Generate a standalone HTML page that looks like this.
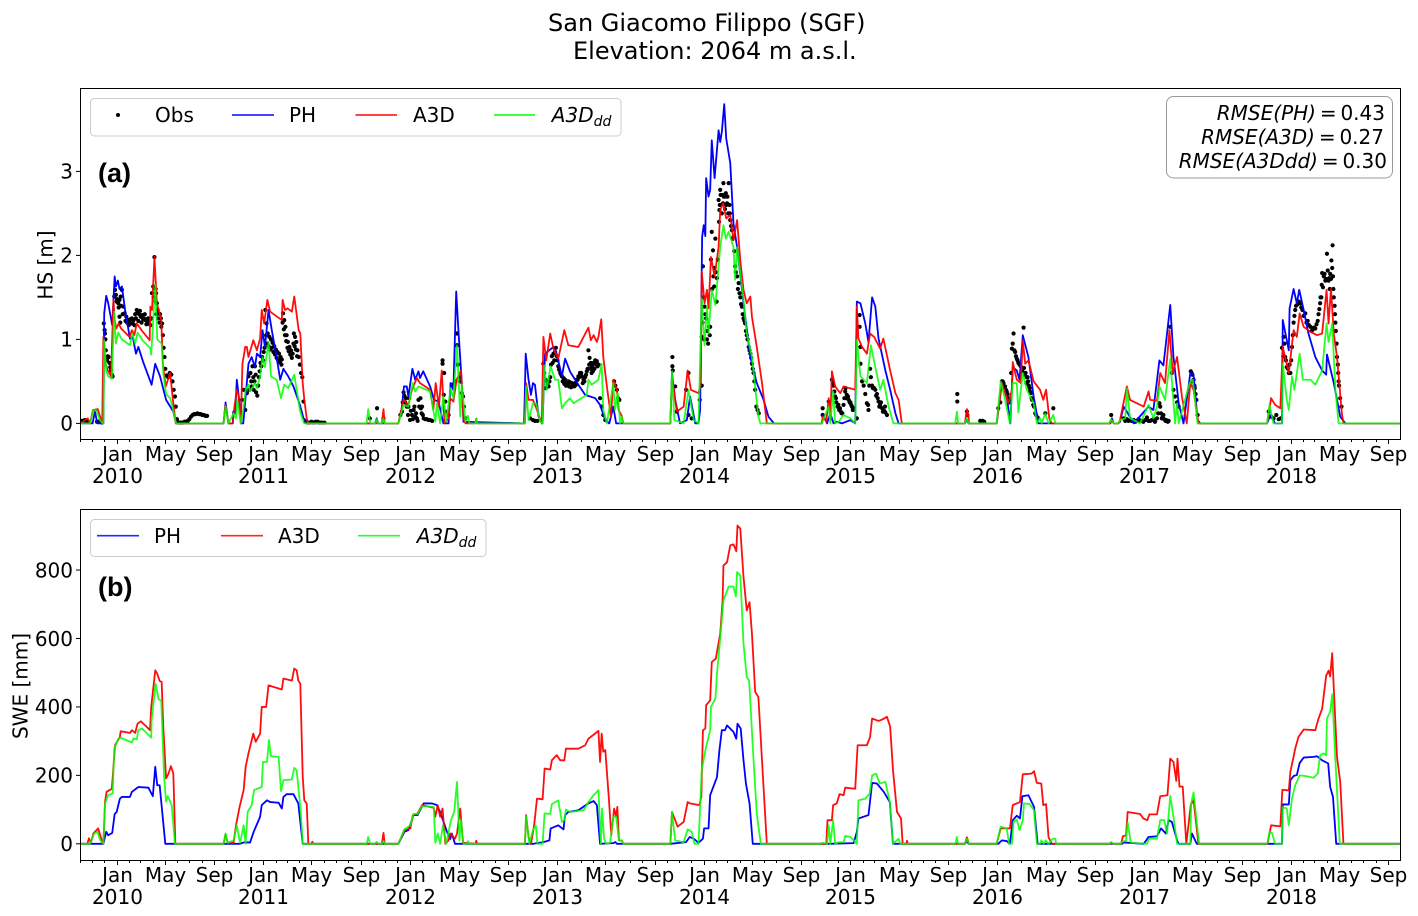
<!DOCTYPE html>
<html lang="en">
<head>
<meta charset="utf-8">
<title>San Giacomo Filippo (SGF)</title>
<style>
html,body{margin:0;padding:0;background:#fff;}
svg{display:block;}
text{font-family:"DejaVu Sans","Liberation Sans",sans-serif;fill:#000;}
.m{font-style:italic;}
</style>
</head>
<body>
<svg id="figure" xmlns="http://www.w3.org/2000/svg" width="1418" height="916" viewBox="0 0 1418 916">
  <defs>
    <clipPath id="clipA"><rect x="80.5" y="88.5" width="1320" height="351"/></clipPath>
    <clipPath id="clipB"><rect x="80.5" y="509.5" width="1320" height="351"/></clipPath>
  </defs>
  <text x="548" y="31" font-size="24">San Giacomo Filippo (SGF)</text>
  <text x="573" y="59" font-size="24">Elevation: 2064 m a.s.l.</text>

  <g id="panelA">
    <g id="marksA" clip-path="url(#clipA)"></g>
    <rect x="80.5" y="88.5" width="1320" height="351" fill="none" stroke="#000" stroke-width="1"/>
    <g id="axisA"></g>
    <text transform="translate(52.5,265) rotate(-90)" text-anchor="middle" font-size="20">HS [m]</text>
    <text x="98" y="182" font-size="27" font-weight="bold" style="font-family:'Liberation Sans',sans-serif" fill="#222">(a)</text>
    <g>
      <rect x="90.5" y="98.5" width="530.5" height="37.5" rx="4" fill="#fff" fill-opacity=".8" stroke="#ccc"/>
      <circle cx="118" cy="115" r="2" fill="#000"/>
      <text x="155" y="122" font-size="20">Obs</text>
      <line x1="232" x2="274" y1="115" y2="115" stroke="#00f" stroke-opacity=".85" stroke-width="1.7"/>
      <text x="289" y="122" font-size="20">PH</text>
      <line x1="355.5" x2="397" y1="115" y2="115" stroke="#f00" stroke-opacity=".85" stroke-width="1.7"/>
      <text x="413" y="122" font-size="20">A3D</text>
      <line x1="494" x2="535" y1="115" y2="115" stroke="#0f0" stroke-opacity=".85" stroke-width="1.7"/>
      <text x="551.8" y="122" font-size="20" class="m">A3D<tspan font-size="14" dy="4">dd</tspan></text>
    </g>
    <g>
      <rect x="1166.5" y="96.5" width="226" height="81.5" rx="7" fill="#fff" stroke="#999"/>
      <text x="1385" y="120" font-size="20" text-anchor="end" word-spacing="-2.5"><tspan class="m">RMSE(PH)</tspan> = 0.43</text>
      <text x="1384" y="144" font-size="20" text-anchor="end" word-spacing="-2.5"><tspan class="m">RMSE(A3D)</tspan> = 0.27</text>
      <text x="1387" y="168" font-size="20" text-anchor="end" word-spacing="-2.5"><tspan class="m">RMSE(A3Ddd)</tspan> = 0.30</text>
    </g>
  </g>

  <g id="panelB">
    <g id="marksB" clip-path="url(#clipB)"></g>
    <rect x="80.5" y="509.5" width="1320" height="351" fill="none" stroke="#000" stroke-width="1"/>
    <g id="axisB"></g>
    <text transform="translate(27.5,686) rotate(-90)" text-anchor="middle" font-size="20">SWE [mm]</text>
    <text x="98" y="596" font-size="27" font-weight="bold" style="font-family:'Liberation Sans',sans-serif" fill="#111">(b)</text>
    <g>
      <rect x="90.5" y="519.5" width="395.5" height="37" rx="4" fill="#fff" fill-opacity=".8" stroke="#ccc"/>
      <line x1="97" x2="139" y1="535.7" y2="535.7" stroke="#00f" stroke-opacity=".85" stroke-width="1.7"/>
      <text x="154" y="543" font-size="20">PH</text>
      <line x1="221" x2="263" y1="535.7" y2="535.7" stroke="#f00" stroke-opacity=".85" stroke-width="1.7"/>
      <text x="278" y="543" font-size="20">A3D</text>
      <line x1="358" x2="400" y1="535.7" y2="535.7" stroke="#0f0" stroke-opacity=".85" stroke-width="1.7"/>
      <text x="416.8" y="543" font-size="20" class="m">A3D<tspan font-size="14" dy="4">dd</tspan></text>
    </g>
  </g>
</svg>
<script>
/* All times are days since 2009-10-01. HS in metres, SWE in millimetres. */
const monthNames = ["Jan","May","Sep"];
const hsTickValues = [0,1,2,3];
const sweTickValues = [0,200,400,600,800];

const hsObsDays = [3,7,11,15,19,41,45,49,53,58,60,61,62,63,64,66,68,70,72,74,76,78,80,84,86,88,91,94,97,97,99,100,103,107,110,114,118,122,126,130,134,138,142,146,150,154,158,162,166,170,174,178,181,184,187,188,190,192,195,198,200,203,205,207,209,211,214,218,222,226,229,232,235,237,240,243,247,251,255,259,263,267,271,275,279,283,287,291,295,299,303,307,311,315,
90,95,101,105,112,116,120,124,128,132,136,140,144,148,152,156,160,164,168,172,176,182,186,189,193,197,201,
402,406,410,414,418,420,423,426,428,431,434,437,440,444,448,452,456,460,463,466,470,474,478,482,486,490,494,498,501,504,507,510,513,516,520,524,528,531,534,537,540,543,546,549,552,555,560,565,570,575,580,585,590,595,600,607,
425,430,433,436,442,446,450,454,458,462,465,468,472,476,480,484,488,492,496,500,503,506,509,512,515,518,522,526,530,533,536,539,
720,738,754,796,800,804,806,808,812,816,820,825,829,833,837,841,846,847,850,854,858,862,866,870,875,901,901,905,904,908,908,916,924,933,937,937,939,943,945,949,952,954,958,
802,810,815,818,822,827,831,835,839,843,849,852,
1119,1126,1131,1137,1152,1154,1157,1160,1165,1169,1173,1177,1181,1185,1189,1194,1198,1202,1206,1210,1214,1218,1223,1227,1231,1235,1239,1243,1248,1252,1256,1260,1264,1267,1270,1273,1277,1281,1285,1289,1293,1297,1301,1306,1328,1331,1335,1338,1341,
1158,1162,1167,1171,1175,1179,1183,1187,1191,1196,1200,1204,1208,1212,1216,1221,1225,1229,1233,1237,1241,1246,1250,1254,1258,1262,1266,1269,1272,1275,1279,1283,1287,
1473,1473,1474,1480,1484,1507,1513,1513,1521,1541,1546,1549,1546,1550,1553,1557,1560,1564,1567,1569,1571,1574,1577,1580,1584,1588,1590,1592,1594,1598,1600,1603,1606,1609,1613,1615,1617,1621,1625,1629,1634,1638,1642,1646,1650,1654,1658,1663,1667,1671,1675,1679,1682,1685,1688,
1548,1552,1555,1559,1562,1566,1572,1575,1578,1581,1583,1586,1589,1591,1593,1596,1599,1601,1604,1607,1610,1612,1616,1619,1623,1627,1631,1636,1640,1644,1648,1652,1656,1660,1665,1669,1673,1677,
1847,1847,1862,1870,1874,1878,1881,1884,1888,1892,1896,1901,1904,1907,1912,1916,1920,1924,1932,1939,1939,1941,1941,1945,1949,1953,1957,1961,1965,1967,1972,1978,1982,1986,1990,1995,2000,2003,2007,
1872,1876,1880,1886,1890,1894,1899,1903,1906,1910,1914,1918,1922,1960,1963,1970,1975,1980,1984,1988,1992,1997,2002,
2182,2182,2206,2207,2239,2245,2249,2284,2289,2293,2297,2301,2305,2309,2313,2318,2320,2322,2324,2328,2332,2337,2347,2348,2352,2355,2358,2362,2365,2368,2373,2378,2382,2401,2421,
2295,2299,2303,2307,2311,2316,2326,2330,2334,2340,2344,2350,2354,2357,2360,2363,2367,2371,2376,
2565,2596,2604,2612,2621,2629,2637,2645,2654,2662,2670,2679,2685,2689,2693,2697,2702,2708,2712,2716,2720,2724,2729,2733,2763,2767,2770,2773,2777,2780,
2600,2608,2616,2625,2633,2641,2650,2658,2666,2674,2682,2687,2691,2695,2700,2706,2765,2768,2772,2775,
2957,2963,2969,2976,2982,2987,2994,2996,2998,3002,3007,3011,3015,3019,3023,3029,3036,3041,3048,3054,3061,3067,3073,3079,3083,3085,3088,3090,3094,3098,3102,3104,3108,3110,3113,3116,3117,3119,3122,3124,3127,3130,3132,3135,3138,
2990,2993,3000,3005,3009,3013,3017,3021,3025,3032,3038,3044,3051,3057,3064,3070,3076,3081,3086,3089,3092,3096,3100,3106,3109,3112,3115,3118,3121,3123,3126,3129,3131];
const hsObsVals = [.03,.03,.04,.03,.02,.02,.02,.02,.01,1.19,1.11,1.07,1,.87,.79,.75,.8,.79,.72,.67,.63,.58,.56,1.51,1.59,1.53,1.48,1.43,1.47,1.27,1.2,1.51,1.59,1.39,1.31,1.27,1.23,1.21,1.19,1.19,1.17,1.25,1.32,1.3,1.27,1.29,1.25,1.23,1.21,1.19,1.17,1.55,1.63,1.98,1.6,1.55,1.43,1.35,1.31,1.3,1.25,1.19,1.05,.9,.79,.65,.57,.55,.6,.58,.5,.4,.32,.2,.05,.01,.01,.01,.01,.02,.02,.03,.05,.08,.1,.11,.11,.12,.11,.11,.1,.1,.09,.09,
1.45,1.38,1.4,1.3,1.22,1.2,1.17,1.24,1.25,1.23,1.3,1.35,1.22,1.34,1.2,1.24,1.3,1.18,1.25,1.23,1.25,1.5,1.45,1.3,1.25,1.2,1.15,
.28,.4,.16,.36,.56,.4,.6,.44,.68,.4,.68,.37,.33,.55,.72,.79,.85,1.35,1.19,1.07,1.03,1,.96,.92,.88,.85,.83,.79,.76,1.31,1.23,1.15,1.05,.97,.91,.87,.83,1.07,1.03,.97,.87,.79,.7,.6,.55,.26,.02,.01,.01,.02,.01,.02,.02,.01,.01,.01,
.5,.55,.5,.58,.45,.62,.68,.75,.9,1.05,.95,.92,.88,.9,.85,.82,.78,.75,.73,.7,1.2,1.12,1.05,.98,.9,.86,.82,.78,.95,.92,.88,.8,
.06,.18,.06,.1,.14,.37,.33,.25,.2,.2,.04,.1,.16,.08,.06,.28,.3,.18,.2,.06,.05,.05,.04,.04,.03,.75,.71,.6,.34,.26,.14,.1,.46,.5,1.07,.93,.7,.55,.5,.36,.32,.2,.06,
.25,.3,.1,.3,.15,.05,.2,.12,.03,.2,.12,.1,
.06,.04,.03,.03,.71,.6,.52,.5,.44,.55,.8,.83,.85,.8,.68,.6,.56,.54,.52,.5,.5,.49,.48,.47,.48,.52,.56,.6,.56,.52,.55,.62,.87,.78,.72,.68,.72,.75,.74,.7,.3,.2,.1,.04,.5,.45,.4,.3,.28,
.42,.46,.5,.7,.72,.75,.9,.75,.64,.58,.5,.47,.45,.47,.44,.43,.45,.44,.46,.52,.55,.6,.48,.5,.58,.65,.7,.65,.6,.62,.65,.7,.68,
.79,.68,.63,.44,.14,.4,.6,.1,.06,.28,.45,1.87,1.03,1.5,1.39,1.25,1.1,1.15,1.15,1.95,2.28,2.06,1.63,2.2,1.73,2.66,2.54,2.78,2.6,2.72,2.86,2.7,2.74,2.62,2.86,2.6,2.42,2.3,2.22,1.87,1.75,1.67,1.5,1.39,1.25,1.19,1.05,.91,.83,.71,.6,.4,.2,.16,.12,
1.2,1,1.3,1,.95,1.05,1.6,1.75,1.85,1.8,1.45,1.95,2.4,2.6,2.72,2.5,2.62,2.7,2.55,2.6,2.7,2.5,2.5,2.35,2.2,2.05,1.8,1.6,1.55,1.42,1.3,1.22,1.1,1,.87,.78,.65,.5,
.18,.1,.26,.52,.45,.32,.25,.2,.16,.14,.12,.3,.42,.34,.28,.25,.2,.18,.06,1.29,1.15,.91,.71,.5,.45,.35,.24,.16,.65,.55,.42,.4,.35,.26,.22,.18,.15,.13,.1,
.48,.38,.3,.22,.18,.12,.22,.38,.3,.32,.25,.22,.16,.22,.45,.45,.42,.33,.3,.2,.25,.14,.2,
.35,.26,.14,.1,.03,.03,.02,.18,.25,.5,.48,.44,.38,.3,.28,.89,.95,1.07,.87,.8,.75,.7,1.14,.66,.6,.55,.5,.42,.36,.28,.2,.1,.07,.12,.18,
.5,.42,.4,.35,.25,.6,.85,.77,.72,.68,.62,.58,.48,.55,.45,.38,.3,.22,.12,
.1,.06,.05,.04,.04,.03,.03,.02,.07,.03,.05,.06,.24,.12,.08,.05,.04,.03,1.15,.6,.4,.32,.25,.2,.62,.58,.52,.42,.28,.1,
.03,.03,.03,.02,.05,.03,.04,.03,.04,.02,.12,.2,.06,.1,.03,.02,.6,.5,.45,.35,
.14,.08,.06,.1,.05,.06,1.03,.95,.79,.67,.6,.6,.91,1.2,1.35,1.42,1.43,1.35,1.31,1.22,1.15,1.12,1.13,1.22,1.36,1.43,1.5,1.79,1.75,1.7,2.02,1.82,1.73,1.78,1.94,2.12,1.75,1.5,1.3,1.1,.79,.6,.45,.3,.2,
.9,.8,.75,.65,.7,.75,1.05,1.28,1.4,1.45,1.38,1.28,1.2,1.17,1.1,1.14,1.18,1.3,1.5,1.65,1.62,1.78,1.72,1.7,1.6,1.72,1.85,1.6,1.4,1.2,.95,.7,.5];

const hsPhDays = [0,24,30,36,42,57,59,64,69,79,85,88,93,97,103,111,123,130,138,144,156,177,186,198,213,231,238,
356,361,368,379,380,385,389,395,399,405,411,418,426,434,439,447,453,459,468,476,488,497,505,517,530,546,555,563,567,
733,737,741,791,799,805,812,816,826,833,841,845,853,870,880,891,903,916,921,928,935,941,949,953,
1104,1108,1115,1121,1126,1131,1140,1150,1154,1156,1177,1185,1198,1206,1219,1239,1256,1281,1293,1306,1316,1326,1333,1343,
1468,1472,1480,1492,1509,1517,1530,1538,1542,1547,1551,1555,1557,1563,1567,1571,1578,1588,1592,1596,1602,1607,1617,1625,1634,1650,1667,1683,1700,1712,1726,
1845,1848,1858,1866,1874,1882,1895,1916,1928,1932,1941,1953,1961,1970,1978,1986,2003,2015,2028,2036,
2201,2206,2210,2280,2293,2305,2314,2320,2330,2337,2345,2359,2372,2384,
2563,2567,2571,2583,2587,2596,2604,2621,2658,2670,2685,2695,2712,2720,2733,2745,2762,2770,2780,2787,
2953,2961,2973,2990,2992,3007,3009,3019,3027,3033,3044,3056,3073,3090,3100,3102,3119,3135,3148,3285];
const hsPhVals = [0,0,0,.14,0,0,1.31,1.52,1.43,1.17,1.75,1.63,1.7,1.6,1.63,1.35,1.01,1.03,.83,.91,.73,.46,.71,.56,.28,.14,0,
0,.25,0,0,.14,.12,.52,.28,0,0,.32,.71,.79,.67,.83,.79,1.11,.91,1.35,1.11,.79,.52,.65,.56,.44,.22,.06,.03,0,
0,.06,0,0,.16,.44,.44,.32,.65,.52,.62,.54,.62,.44,.28,.26,0,0,.48,.4,1.57,1.07,.48,.02,
0,.83,.52,.34,.48,.46,.08,0,.6,.83,.91,.83,.56,.77,.61,.46,.34,.3,.22,.04,0,.2,0,0,
0,.6,.28,0,.04,.32,0,0,.16,2.22,2.36,2.23,2.92,2.7,2.78,3.37,2.92,3.49,3.35,3.47,3.8,3.39,3.1,2.38,2.1,1.43,.79,.48,.28,.08,0,
0,.1,0,.12,0,.02,0,.04,0,1.45,1.43,1.19,.97,1.5,1.39,1.01,.63,.4,.12,0,
0,.04,0,0,.48,.32,0,.67,.63,.52,1.05,.79,.32,0,
0,.06,0,0,.02,.2,.14,0,.2,.16,.75,.69,1.41,.79,.24,0,.6,.58,.04,0,
0,.1,0,0,1.23,.87,1.37,1.6,1.43,1.59,1.35,1.07,.79,.63,.58,.82,.48,.08,0,0];

const hsA3dDays = [0,18,24,31,43,54,57,61,68,76,82,85,89,95,101,122,128,134,140,155,172,174,178,184,190,201,205,212,223,230,237,
356,361,368,379,382,389,393,399,403,410,414,418,430,439,447,451,457,465,472,501,503,509,515,526,532,543,547,553,557,563,567,
750,754,757,791,804,816,825,837,845,870,878,884,892,899,906,916,920,928,936,947,953,958,983,985,987,
1106,1109,1115,1126,1136,1148,1152,1159,1169,1177,1189,1204,1214,1239,1264,1270,1277,1285,1289,1296,1301,1310,1320,1326,1335,1339,1347,1351,
1468,1472,1484,1501,1511,1519,1538,1544,1546,1553,1559,1563,1569,1578,1588,1592,1599,1607,1617,1625,1634,1642,1650,1658,1667,1671,1683,1696,1708,
1845,1848,1856,1862,1866,1870,1878,1891,1899,1928,1932,1936,1945,1957,1965,1975,1990,1998,2015,2028,2036,2044,
2201,2206,2210,2211,2280,2293,2309,2318,2320,2330,2340,2345,2351,2359,2372,2388,2396,2403,2411,2417,
2563,2567,2571,2583,2587,2604,2612,2646,2658,2662,2679,2687,2699,2710,2718,2729,2741,2753,2762,2770,2782,
2953,2963,2973,2986,2992,3007,3019,3027,3034,3044,3061,3077,3090,3101,3106,3112,3119,3127,3139,3143,3285];
const hsA3dVals = [0,.06,0,.16,.17,0,1.03,.73,.63,.56,1.47,1.23,1.13,1.19,1.13,1.03,1.11,1.05,1.19,1.09,.99,1.39,1.35,1.98,1.43,1.23,.71,.44,.6,.28,0,
0,.22,0,0,.16,.4,.34,0,.71,.91,.91,.79,.99,.87,1.01,1.35,1.19,1.47,1.33,1.23,1.47,1.35,1.37,1.33,1.51,1.11,1.07,.48,.28,.06,0,
0,.17,0,0,.28,.22,.4,.54,.48,.4,.16,.48,.2,.63,0,.06,.3,.26,.52,.63,.06,0,0,.06,0,
0,.48,.28,.28,.16,0,1.03,.75,1.07,.89,.77,1.11,.93,.91,1.14,.99,1.05,.97,1.03,1.24,.79,.44,.08,.52,.4,.16,.09,0,
0,.56,.14,.2,.63,.4,.36,.48,1.81,1.43,1.59,1.37,1.98,1.75,2.1,2.54,2.62,2.44,2.48,2.18,2.42,1.94,1.59,1.43,1.51,1.27,.91,.48,0,
0,.08,.02,.3,.04,.62,.44,.36,.44,.4,1.39,1.01,.91,.83,1.07,1.03,.89,1.01,.63,.36,.28,0,
0,.17,.08,0,0,.48,.24,.4,.73,.52,.48,.99,.71,.75,.5,.4,.28,.4,.06,0,
0,.04,0,0,.04,.44,.28,.2,.38,.28,.27,.6,.48,1.11,.6,.79,.32,0,.48,.4,0,
0,.3,.22,.18,.91,.6,1.11,1.03,1.31,1.15,1.09,1.05,1.07,1.59,1.19,1.6,1.07,.79,.12,0,0];

const hsDddDays = [0,24,32,40,49,57,59,64,69,78,84,88,94,103,123,129,136,142,156,173,176,180,186,191,202,206,213,223,231,238,
356,361,368,381,387,390,399,405,411,418,422,434,439,447,453,459,468,474,488,499,507,517,532,546,553,557,
712,716,721,733,737,741,750,754,757,791,804,816,827,833,841,870,883,887,895,903,910,921,928,937,945,949,958,964,968,983,985,987,
1106,1109,1115,1126,1134,1144,1150,1154,1160,1170,1181,1189,1198,1206,1218,1227,1260,1264,1272,1289,1297,1301,1310,1326,1330,1337,1343,1347,1351,
1468,1472,1478,1501,1513,1526,1538,1546,1553,1559,1563,1571,1580,1592,1600,1606,1613,1625,1629,1634,1650,1658,1671,1687,1692,
1845,1862,1866,1873,1878,1887,1899,1916,1928,1932,1941,1957,1967,1978,1990,1998,2011,2023,
2177,2181,2184,2201,2206,2210,2280,2290,2301,2313,2320,2330,2334,2345,2355,2372,2380,2388,2392,2401,2409,2421,2426,
2560,2564,2571,2583,2587,2600,2604,2612,2637,2658,2670,2679,2685,2699,2712,2724,2729,2733,2760,2768,2780,
2953,2959,2969,2990,2992,3002,3007,3015,3021,3034,3042,3061,3073,3090,3101,3106,3115,3123,3131,3285];
const hsDddVals = [0,0,.16,.15,.03,0,.99,.63,.56,.53,1.33,.95,1.08,1,.93,1.07,.95,1.08,.98,.9,.82,1.15,1.65,1,.95,.6,.35,.3,.15,0,
0,.2,0,.12,.06,.28,0,.16,.4,.46,.38,.48,.42,.56,.79,.67,.97,.56,.52,.3,.46,.42,.58,.16,.04,0,
0,.17,0,0,.05,0,0,.06,0,0,.22,.2,.48,.38,.44,.38,.02,.24,0,.32,.02,.42,.3,.93,.08,.46,.02,.09,0,0,.06,0,
0,.44,.04,.24,.24,.02,0,.69,.4,.68,.52,.52,.18,.24,.3,.24,.34,.52,.46,.52,.71,.16,0,.48,.16,.36,0,.08,0,
0,.62,.04,0,.4,.04,0,1.49,.93,1.39,1.07,1.59,1.41,2.1,2.36,2.2,2.28,2.1,1.71,2.1,1.47,1.07,.79,.08,0,
0,.2,0,.38,0,.02,.1,.06,0,.99,.56,.48,.93,.67,.4,.52,.2,0,
0,.14,0,0,.06,0,0,.5,.28,0,.48,.48,.13,.6,.4,.24,0,.06,0,.12,0,.1,0,
0,.05,0,0,.04,.06,.42,.06,0,.22,.06,.2,.44,.28,.77,0,.24,0,.48,.52,0,
0,.22,0,0,.71,.28,.16,.56,.4,.83,.52,.52,.46,.63,1.19,.97,1.19,.4,0,0];

const swePhDays = [0,57,64,69,79,85,90,98,103,123,128,144,169,180,186,191,197,211,
397,406,422,431,447,451,464,472,493,501,505,513,530,542,553,
791,806,816,829,839,854,875,887,895,912,920,924,932,
1127,1152,1167,1170,1189,1202,1206,1214,1239,1264,1277,1285,1293,1326,1331,1335,
1468,1507,1516,1526,1538,1549,1552,1563,1567,1584,1590,1596,1604,1609,1625,1632,1635,1643,1650,1656,1665,1673,
1862,1924,1932,1936,1961,1970,1982,1999,2014,2022,
2201,2206,2210,2284,2293,2305,2313,2320,2330,2338,2344,2359,2373,2382,
2592,2596,2646,2658,2679,2689,2701,2708,2716,2729,2733,2762,2766,2778,
2954,2990,2992,3007,3011,3019,3027,3034,3044,3069,3077,3090,3105,3110,3117,3125,3285];
const swePhVals = [0,0,35,25,32,87,93,132,137,137,152,166,164,139,225,171,171,0,
0,4,4,35,79,113,127,122,120,103,137,145,145,118,0,
0,35,40,84,84,118,118,113,93,35,14,30,0,
0,5,10,45,54,42,84,93,98,118,125,113,0,2,5,0,
0,5,20,15,3,15,45,45,142,195,273,332,332,346,327,307,351,337,244,176,118,0,
0,2,35,74,84,178,176,152,122,0,
0,8,0,0,10,8,0,69,82,74,139,142,108,0,
0,4,0,20,22,45,30,69,64,10,0,0,30,0,
0,0,115,115,186,198,201,236,252,254,256,244,235,166,137,0,0];

const sweA3dDays = [0,17,21,26,32,44,53,57,61,65,78,82,86,98,100,123,128,136,142,150,161,173,176,186,191,197,202,206,213,219,225,231,236,
356,361,366,381,387,396,406,411,418,430,436,447,451,462,468,501,505,526,532,538,542,547,553,557,563,567,575,577,579,
750,754,757,791,806,821,827,839,850,879,883,889,895,901,908,916,920,932,937,945,952,983,985,987,
1106,1109,1115,1121,1129,1136,1150,1155,1169,1173,1185,1194,1204,1208,1227,1239,1256,1264,1289,1293,1297,1301,1306,1314,1321,1328,1333,1336,1340,1347,1351,
1468,1472,1480,1486,1501,1511,1517,1540,1545,1549,1555,1557,1567,1571,1581,1592,1598,1600,1609,1617,1625,1632,1635,1642,1650,1658,1665,1671,1679,1687,1696,1708,
1845,1856,1859,1870,1873,1882,1889,1899,1903,1928,1934,1957,1965,1970,1986,1995,2007,2015,2022,2032,2042,2046,2055,2057,2059,
2201,2206,2211,2280,2290,2313,2320,2338,2345,2367,2373,2380,2391,2396,2403,2409,2417,
2561,2565,2569,2590,2594,2602,2606,2637,2645,2655,2660,2679,2687,2705,2712,2720,2727,2730,2735,2743,2752,2763,2770,2782,
2954,2963,2986,2991,3007,3011,3017,3023,3031,3044,3073,3081,3090,3100,3106,3110,3115,3120,3127,3135,3143,3285];
const sweA3dVals = [0,0,16,3,30,45,10,0,122,152,161,225,288,312,329,324,332,324,351,358,346,332,400,507,497,476,473,342,191,205,227,206,0,
0,28,3,3,54,108,157,225,264,322,298,322,400,400,463,451,483,477,512,507,477,468,196,127,118,0,0,6,0,
0,32,0,0,40,45,84,89,113,105,79,113,79,103,0,10,30,15,30,103,3,0,9,0,
0,84,20,0,54,132,130,220,217,244,259,244,244,278,278,278,288,307,330,239,322,269,274,147,25,103,79,108,10,10,0,
0,93,69,50,64,122,118,113,137,332,337,405,419,531,541,614,711,813,823,872,875,855,930,921,780,682,706,614,444,429,244,0,
0,0,69,69,113,118,145,142,164,161,288,288,312,366,359,363,371,342,215,93,74,0,0,9,0,
0,19,0,0,45,45,113,122,203,205,212,178,176,113,116,20,0,
0,3,0,0,22,25,93,87,74,69,86,86,139,142,249,239,184,249,167,167,0,113,128,0,
0,54,51,158,156,211,244,278,312,334,332,366,395,491,506,489,557,429,254,181,0,0];

const sweDddDays = [0,24,34,42,49,57,61,69,80,84,94,100,128,132,140,144,153,176,177,187,194,201,208,213,217,227,235,
356,361,366,381,389,397,406,411,416,426,432,451,454,464,469,474,493,499,505,526,532,538,542,548,553,
712,716,721,733,737,741,750,754,757,791,806,821,829,839,850,879,883,889,895,902,910,922,930,937,943,947,953,963,964,967,
1106,1109,1117,1126,1133,1137,1150,1155,1169,1173,1189,1198,1204,1208,1218,1252,1264,1277,1289,1295,1298,1303,1308,1318,1326,1333,1340,1347,1351,
1468,1472,1480,1501,1511,1521,1528,1538,1546,1555,1567,1569,1580,1584,1592,1600,1613,1625,1631,1634,1642,1650,1658,1664,1675,1683,1693,
1844,1845,1858,1862,1866,1873,1878,1887,1899,1903,1916,1932,1936,1953,1964,1970,1980,1989,2003,2014,2022,2036,2040,
2177,2181,2184,2201,2206,2211,2280,2290,2305,2311,2318,2322,2330,2337,2345,2348,2362,2373,2380,2388,2391,2397,2402,2409,2420,2426,2428,
2561,2565,2571,2588,2592,2602,2606,2614,2654,2660,2679,2687,2697,2704,2712,2720,2729,2737,2762,2764,2770,2780,2784,
2950,2954,2959,2965,2973,2990,2992,3002,3007,3015,3023,3034,3048,3069,3079,3085,3094,3100,3102,3110,3115,3123,3134,3285];
const sweDddVals = [0,0,30,35,10,0,118,142,147,278,307,310,296,308,305,332,337,310,361,468,424,417,196,123,139,113,0,
0,30,3,10,54,3,54,0,93,113,157,166,239,239,303,256,254,154,186,188,222,215,166,98,0,
0,20,0,0,6,0,0,8,0,0,42,54,87,87,110,108,3,30,0,54,0,69,93,181,10,69,0,0,8,0,
0,81,0,40,54,0,0,89,87,116,127,64,69,100,93,98,122,142,157,0,103,15,0,3,79,79,10,10,0,
0,93,10,5,42,35,0,0,215,273,332,400,424,497,600,711,752,752,723,794,784,585,487,477,244,89,0,
0,3,0,54,0,69,0,5,5,23,20,0,127,132,147,200,205,176,181,122,0,15,0,
0,20,0,0,15,0,0,50,45,0,0,64,71,40,69,118,116,98,0,0,10,0,10,0,15,15,0,
0,5,0,0,5,10,62,3,0,15,15,69,69,30,140,79,0,0,0,118,150,40,0,
0,3,35,32,0,0,107,103,54,133,171,200,198,193,205,259,264,259,366,386,437,244,0,0];

/* Axis functions */
const NS = 'http://www.w3.org/2000/svg';
const AXIS_LEFT = 80.5, AXIS_RIGHT = 1400.5, TOTAL_DAYS = 3285;
function xScale(day){ return AXIS_LEFT + day * (AXIS_RIGHT - AXIS_LEFT) / TOTAL_DAYS; }
function yHS(v){ return 423.4 - v * 84; }
function ySWE(v){ return 843.8 - v * 0.3422; }
function dayOf(year, month){ return (Date.UTC(year, month, 1) - Date.UTC(2009, 9, 1)) / 864e5; }

function drawLine(parent, days, vals, yScale, color, opacity, name){
  const p = document.createElementNS(NS, 'polyline');
  let pts = '';
  for (let i = 0; i < days.length; i++) pts += xScale(days[i]).toFixed(2) + ',' + yScale(vals[i]).toFixed(2) + ' ';
  p.setAttribute('points', pts);
  p.setAttribute('fill', 'none');
  p.setAttribute('stroke', color);
  p.setAttribute('stroke-opacity', opacity);
  p.setAttribute('stroke-width', '1.8');
  p.setAttribute('stroke-linejoin', 'round');
  
  
  parent.appendChild(p);
}

function drawObs(parent, days, vals, yScale){
  const g = document.createElementNS(NS, 'g');
  
  
  for (let i = 0; i < days.length; i++) {
    const c = document.createElementNS(NS, 'circle');
    c.setAttribute('cx', xScale(days[i]).toFixed(2));
    c.setAttribute('cy', yScale(vals[i]).toFixed(2));
    c.setAttribute('r', '2.1');
    c.setAttribute('fill', '#000');
    
    
    g.appendChild(c);
  }
  parent.appendChild(g);
}

function drawXAxis(parent, bottom, monthY, yearY){
  for (let i = 0; i < 108; i++) {
    const year = 2009 + Math.floor((i + 9) / 12);
    const month = (i + 9) % 12;
    const x = Math.round(xScale(dayOf(year, month)) - 0.9) + 0.5;
    const major = month % 4 === 0;
    const t = document.createElementNS(NS, 'line');
    t.setAttribute('x1', x);
    t.setAttribute('x2', x);
    t.setAttribute('y1', bottom);
    t.setAttribute('y2', bottom + (major ? 4.5 : 2.5));
    t.setAttribute('stroke', '#000');
    t.setAttribute('stroke-width', '1');
    
    
    parent.appendChild(t);
    if (major) {
      const lab = document.createElementNS(NS, 'text');
      lab.setAttribute('x', x);
      lab.setAttribute('y', monthY);
      lab.setAttribute('text-anchor', 'middle');
      lab.setAttribute('font-size', '20');
      
      
      lab.textContent = monthNames[month / 4];
      parent.appendChild(lab);
      if (month === 0) {
        const yl = document.createElementNS(NS, 'text');
        yl.setAttribute('x', x);
        yl.setAttribute('y', yearY);
        yl.setAttribute('text-anchor', 'middle');
        yl.setAttribute('font-size', '20');
        
        
        yl.textContent = String(year);
        parent.appendChild(yl);
      }
    }
  }
}

function drawYAxis(parent, ticks, yScale){
  ticks.forEach(function(v){
    const y = yScale(v);
    const t = document.createElementNS(NS, 'line');
    t.setAttribute('x1', 76);
    t.setAttribute('x2', 80.5);
    t.setAttribute('y1', y);
    t.setAttribute('y2', y);
    t.setAttribute('stroke', '#000');
    
    
    parent.appendChild(t);
    const lab = document.createElementNS(NS, 'text');
    lab.setAttribute('x', 73);
    lab.setAttribute('y', y + 7.3);
    lab.setAttribute('text-anchor', 'end');
    lab.setAttribute('font-size', '20');
    
    
    lab.textContent = String(v);
    parent.appendChild(lab);
  });
}

const marksA = document.getElementById('marksA');
const marksB = document.getElementById('marksB');
const axisA = document.getElementById('axisA');
const axisB = document.getElementById('axisB');

drawObs(marksA, hsObsDays, hsObsVals, yHS);
drawLine(marksA, hsPhDays, hsPhVals, yHS, '#0000ff', '1', 'hs-ph-line');
drawLine(marksA, hsA3dDays, hsA3dVals, yHS, '#ff0000', '0.95', 'hs-a3d-line');
drawLine(marksA, hsDddDays, hsDddVals, yHS, '#00ff00', '0.85', 'hs-a3ddd-line');

drawLine(marksB, swePhDays, swePhVals, ySWE, '#0000ff', '1', 'swe-ph-line');
drawLine(marksB, sweA3dDays, sweA3dVals, ySWE, '#ff0000', '0.95', 'swe-a3d-line');
drawLine(marksB, sweDddDays, sweDddVals, ySWE, '#00ff00', '0.85', 'swe-a3ddd-line');

drawXAxis(axisA, 439.5, 461, 483);
drawXAxis(axisB, 860.5, 882, 904);
drawYAxis(axisA, hsTickValues, yHS);
drawYAxis(axisB, sweTickValues, ySWE);
</script>
</body>
</html>
